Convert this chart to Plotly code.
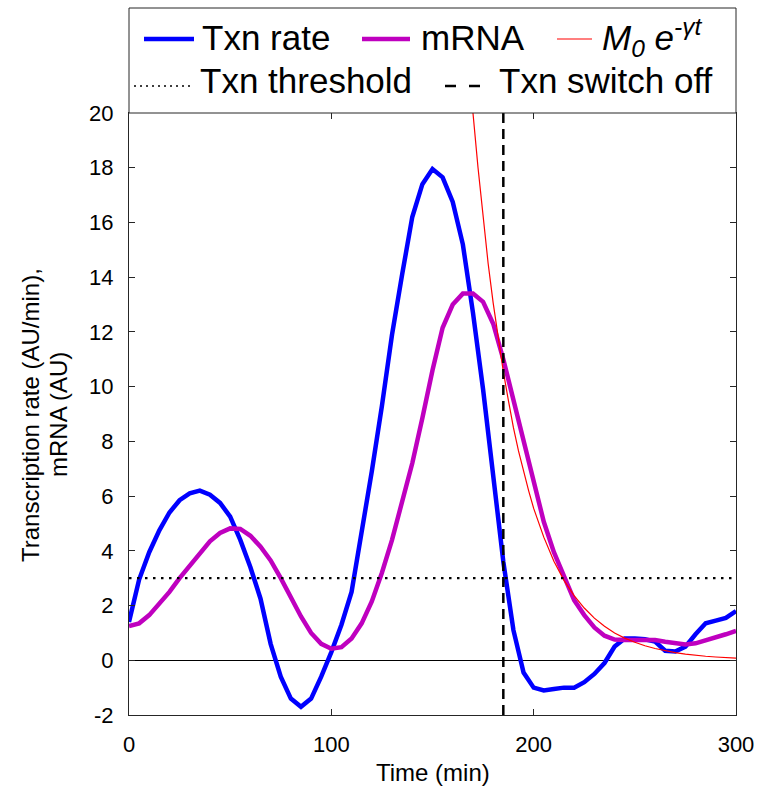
import plotly.graph_objects as go

# ---------------- data ----------------
time = [0, 5, 10, 15, 20, 25, 30, 35, 40, 45, 50, 55, 60, 65, 70, 75, 80, 85, 90, 95,
        100, 105, 110, 115, 120, 125, 130, 135, 140, 145, 150, 155, 160, 165, 170, 175,
        180, 185, 190, 195, 200, 205, 210, 215, 220, 225, 230, 235, 240, 245, 250, 255,
        260, 265, 270, 275, 280, 285, 290, 295, 300]

txn_rate = [1.4, 2.95, 3.95, 4.75, 5.4, 5.85, 6.1, 6.2, 6.05, 5.75, 5.25, 4.4, 3.4, 2.25,
            0.6, -0.6, -1.4, -1.7, -1.4, -0.6, 0.3, 1.3, 2.5, 4.6, 6.9, 9.3, 11.9, 14.1,
            16.2, 17.4, 17.95, 17.65, 16.75, 15.2, 12.7, 9.9, 6.85, 3.6, 1.1, -0.45, -1.0,
            -1.1, -1.05, -1.0, -1.0, -0.8, -0.5, -0.1, 0.5, 0.8, 0.8, 0.77, 0.68, 0.35,
            0.32, 0.5, 0.95, 1.35, 1.45, 1.55, 1.8]

mrna = [1.25, 1.35, 1.65, 2.05, 2.5, 3.0, 3.45, 3.95, 4.35, 4.65, 4.82, 4.8, 4.55, 4.15,
        3.65, 3.0, 2.3, 1.6, 1.0, 0.6, 0.42, 0.48, 0.8, 1.35, 2.15, 3.2, 4.4, 5.75, 7.2,
        8.85, 10.6, 12.15, 13.0, 13.4, 13.4, 13.1, 12.3, 11.0, 9.5, 8.0, 6.5, 5.06, 3.95,
        3.02, 2.2, 1.65, 1.2, 0.9, 0.76, 0.74, 0.74, 0.76, 0.74, 0.68, 0.62, 0.58, 0.62,
        0.72, 0.85, 0.95, 1.07]

decay_time = [165, 167.5, 170, 172.5, 175, 177.5, 180, 182.5, 185, 187.5, 190, 192.5,
              195, 197.5, 200, 205, 210, 215, 220, 225, 230, 235, 240, 245, 250, 255,
              260, 265, 270, 275, 280, 285, 290, 295, 300]
decay_fit = [24.8, 22.3, 20.0, 18.0, 16.15, 14.5, 13.05, 11.7, 10.55, 9.5, 8.5, 7.65,
             6.9, 6.2, 5.55, 4.5, 3.62, 2.92, 2.36, 1.91, 1.54, 1.24, 1.0, 0.81, 0.66,
             0.53, 0.43, 0.35, 0.28, 0.225, 0.18, 0.147, 0.12, 0.096, 0.077]

txn_threshold = 3
switch_off_time = 185

x_range = [0, 300]
y_range = [-2, 20]
x_ticks = [0, 100, 200, 300]
y_ticks = [-2, 0, 2, 4, 6, 8, 10, 12, 14, 16, 18, 20]
y_ticklabels = ["-2", "0", "2", "4", "6", "8", "10", "12", "14", "16", "18", "20"]

legend_labels = ["Txn rate", "mRNA", "<i>M<sub>0</sub> e<sup>-γt</sup></i>",
                 "Txn threshold", "Txn switch off"]

# ---------------- style ----------------
BLUE = "#0000FF"
MAGENTA = "#BF00BF"
RED = "#FF0000"
AXC = "#262626"
FONT = "Liberation Sans, Arial, sans-serif"

W, H = 757, 789
L, R, T, B = 129, 21, 113, 74
PW, PH = W - L - R, H - T - B


def px(x):
    return (x - L) / PW


def py(y):
    return (H - B - y) / PH


fig = go.Figure()
fig.add_trace(go.Scatter(x=time, y=txn_rate, mode="lines",
                         line=dict(color=BLUE, width=4.5), showlegend=False))
fig.add_trace(go.Scatter(x=time, y=mrna, mode="lines",
                         line=dict(color=MAGENTA, width=4.5), showlegend=False))
fig.add_trace(go.Scatter(x=decay_time, y=decay_fit, mode="lines",
                         line=dict(color=RED, width=1.2), showlegend=False))
fig.add_trace(go.Scatter(x=x_range, y=[txn_threshold, txn_threshold], mode="lines",
                         line=dict(color="black", width=2.3, dash="2.5px,5.5px"),
                         showlegend=False))
fig.add_trace(go.Scatter(x=[switch_off_time, switch_off_time], y=y_range, mode="lines",
                         line=dict(color="black", width=2.5, dash="10px,6px"),
                         showlegend=False))

shapes = []
annotations = []

# legend box (above plot area, sharing frame)
shapes.append(dict(type="rect", xref="paper", yref="paper",
                   x0=0, x1=1, y0=1, y1=py(8),
                   line=dict(color=AXC, width=1), fillcolor="white", layer="above"))

legend_items = [
    # (x0, x1, y_line, text_x, y_text, color, width, dash)
    (144, 194, 39, 200, 38, BLUE, 4.5, "solid"),
    (362, 410, 39, 419, 38, MAGENTA, 4.5, "solid"),
    (557, 592, 39, 600, 38, RED, 1.2, "solid"),
    (134, 192, 86, 198, 80, "black", 1.5, "2px,4px"),
    (445, 481, 86, 497, 80, "black", 2.5, "11px,13px"),
]
for (x0, x1, yl, tx, ty, col, w, d), lab in zip(legend_items, legend_labels):
    shapes.append(dict(type="line", xref="paper", yref="paper",
                       x0=px(x0), x1=px(x1), y0=py(yl), y1=py(yl),
                       line=dict(color=col, width=w, dash=d), layer="above"))
    annotations.append(dict(x=px(tx), y=py(ty), xref="paper", yref="paper",
                            text=lab, showarrow=False, xanchor="left", yanchor="middle",
                            font=dict(family=FONT, size=35, color="black")))

# y-axis title (two lines)
annotations.append(dict(x=px(30), y=py(415), xref="paper", yref="paper",
                        text="Transcription rate (AU/min),", textangle=-90,
                        showarrow=False, xanchor="center", yanchor="middle",
                        font=dict(family=FONT, size=24, color="black")))
annotations.append(dict(x=px(58), y=py(415), xref="paper", yref="paper",
                        text="mRNA (AU)", textangle=-90,
                        showarrow=False, xanchor="center", yanchor="middle",
                        font=dict(family=FONT, size=24, color="black")))
# x-axis title
annotations.append(dict(x=px(433), y=py(772), xref="paper", yref="paper",
                        text="Time (min)", showarrow=False,
                        xanchor="center", yanchor="middle",
                        font=dict(family=FONT, size=24, color="black")))

fig.update_layout(
    template="none",
    autosize=False,
    width=W, height=H,
    margin=dict(l=L, r=R, t=T, b=B, pad=0),
    paper_bgcolor="white", plot_bgcolor="white",
    font=dict(family=FONT, color="black"),
    showlegend=False,
    shapes=shapes,
    annotations=annotations,
    xaxis=dict(range=x_range, tickvals=x_ticks, ticks="inside", ticklen=6,
               tickcolor=AXC, showline=True, linecolor=AXC, linewidth=1,
               mirror="ticks", showgrid=False, zeroline=False, automargin=False,
               tickfont=dict(size=22, color="black"), ticklabelstandoff=10),
    yaxis=dict(range=y_range, tickvals=y_ticks, ticktext=y_ticklabels,
               ticks="inside", ticklen=6, tickcolor=AXC, showline=True,
               linecolor=AXC, linewidth=1, mirror="ticks", showgrid=False,
               zeroline=True, zerolinecolor="black", zerolinewidth=1,
               automargin=False,
               tickfont=dict(size=22, color="black"), ticklabelstandoff=10),
)

fig.write_html("out.html", config={"responsive": False})
